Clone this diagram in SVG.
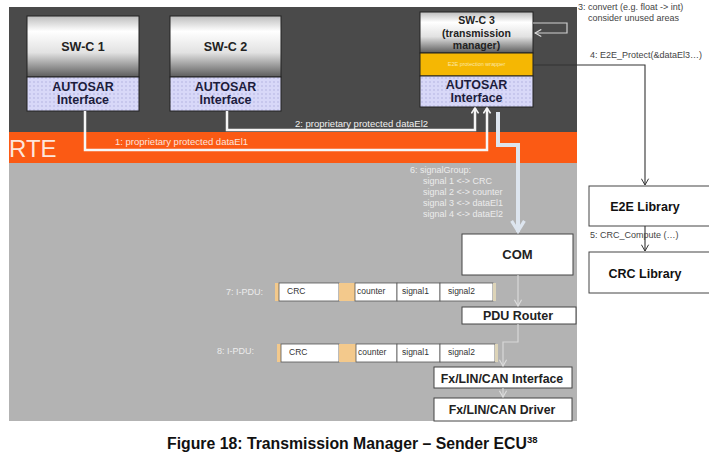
<svg xmlns="http://www.w3.org/2000/svg" width="709" height="467" viewBox="0 0 709 467">
<defs>
<linearGradient id="swc" x1="0" y1="0" x2="0" y2="1">
<stop offset="0" stop-color="#bdbdbd"/>
<stop offset="0.25" stop-color="#ffffff"/>
<stop offset="0.6" stop-color="#e2e2e2"/>
<stop offset="1" stop-color="#5c5c5c"/>
</linearGradient>
<pattern id="dots" width="8" height="8" patternUnits="userSpaceOnUse">
<rect width="8" height="8" fill="#d8d8f8"/>
<circle cx="2" cy="2" r="0.7" fill="#a9a9dc"/>
<circle cx="6" cy="2" r="0.7" fill="#a9a9dc"/>
<circle cx="2" cy="6" r="0.7" fill="#a9a9dc"/>
<circle cx="6" cy="6" r="0.7" fill="#a9a9dc"/>
</pattern>
<marker id="wa" viewBox="0 0 10 10" refX="9" refY="5" markerWidth="9" markerHeight="9" orient="auto" markerUnits="userSpaceOnUse">
<polyline points="3,1 9,5 3,9" fill="none" stroke="#f4f4f4" stroke-width="1.8"/>
</marker>
<marker id="da" viewBox="0 0 10 10" refX="9" refY="5" markerWidth="9" markerHeight="9" orient="auto" markerUnits="userSpaceOnUse">
<polyline points="2,1 9,5 2,9" fill="none" stroke="#333" stroke-width="1.1"/>
</marker>
<marker id="la" viewBox="0 0 10 10" refX="9" refY="5" markerWidth="9" markerHeight="9" orient="auto" markerUnits="userSpaceOnUse">
<polyline points="2,1 9,5 2,9" fill="none" stroke="#dcdcdc" stroke-width="1.3"/>
</marker>
<marker id="ba" viewBox="0 0 10 10" refX="9" refY="5" markerWidth="16" markerHeight="16" orient="auto" markerUnits="userSpaceOnUse">
<polyline points="2,1 8.5,5 2,9" fill="none" stroke="#dde5ef" stroke-width="2"/>
</marker>
</defs>
<style>
text{font-family:"Liberation Sans",Arial,sans-serif}
.b{font-weight:bold}
.box{fill:#fff;stroke:#444;stroke-width:1}
.swc{fill:url(#swc);stroke:#222;stroke-width:1}
.ai{fill:url(#dots);stroke:#222;stroke-width:1}
.ait{font-size:12.5px;font-weight:bold;fill:#1c1c3c;text-anchor:middle}
.lt{font-size:9px;fill:#ececec}
.dk{font-size:9px;fill:#444}
.cell{fill:#fff;stroke:#555;stroke-width:0.8}
.tan{fill:#f3c98c}
.ct{font-size:8.5px;fill:#333}
.wl{fill:none;stroke:#f6f6f6;stroke-width:2.5}
</style>
<rect width="709" height="467" fill="#fff"/>
<g id="panels">
<rect x="9" y="7" width="568" height="125" fill="#4a4a4a"/>
<rect x="9" y="132" width="568" height="31" fill="#fb5a14"/>
<rect x="9" y="163" width="568" height="258" fill="#b3b3b3"/>
<text x="9" y="157" font-size="24" fill="#fde6dc">RTE</text>
</g>
<g id="swc1">
<rect class="swc" x="27" y="16" width="112" height="61"/>
<text class="b" x="83" y="51" font-size="12.5" text-anchor="middle" fill="#222">SW-C 1</text>
<rect class="ai" x="27" y="77" width="112" height="34"/>
<text class="ait" x="83" y="91">AUTOSAR</text>
<text class="ait" x="83" y="104">Interface</text>
</g>
<g id="swc2">
<rect class="swc" x="170" y="16" width="111" height="61"/>
<text class="b" x="225.5" y="51" font-size="12.5" text-anchor="middle" fill="#222">SW-C 2</text>
<rect class="ai" x="170" y="77" width="111" height="34"/>
<text class="ait" x="225.5" y="91">AUTOSAR</text>
<text class="ait" x="225.5" y="104">Interface</text>
</g>
<g id="swc3">
<rect class="swc" x="420" y="12" width="113" height="41"/>
<text class="b" x="476.5" y="24" font-size="10.5" text-anchor="middle" fill="#222">SW-C 3</text>
<text class="b" x="476.5" y="37" font-size="10.5" text-anchor="middle" fill="#222">(transmission</text>
<text class="b" x="476.5" y="49" font-size="10.5" text-anchor="middle" fill="#222">manager)</text>
<rect x="420" y="53" width="113" height="23" fill="#f5b703" stroke="#222" stroke-width="1"/>
<text x="476.5" y="66" font-size="5.5" text-anchor="middle" fill="#fbe7a6">E2E protection wrapper</text>
<rect class="ai" x="420" y="76" width="113" height="31"/>
<text class="ait" x="476.5" y="89" font-size="13">AUTOSAR</text>
<text class="ait" x="476.5" y="102" font-size="13">Interface</text>
</g>
<g id="com">
<rect class="box" x="462" y="234" width="111" height="41"/>
<text class="b" x="517.5" y="259" font-size="13" text-anchor="middle" fill="#222">COM</text>
</g>
<g id="pdurouter">
<rect class="box" x="462" y="307" width="114" height="17"/>
<text class="b" x="518" y="320" font-size="12.5" text-anchor="middle" fill="#222">PDU Router</text>
</g>
<g id="ifc">
<rect class="box" x="434" y="367" width="138" height="21"/>
<text class="b" x="502" y="383" font-size="12.3" text-anchor="middle" fill="#222">Fx/LIN/CAN Interface</text>
</g>
<g id="drv">
<rect class="box" x="434" y="398" width="138" height="23"/>
<text class="b" x="502" y="414" font-size="12.3" text-anchor="middle" fill="#222">Fx/LIN/CAN Driver</text>
</g>
<g id="e2e">
<rect class="box" x="589" y="186" width="125" height="40"/>
<text class="b" x="645" y="211" font-size="12.5" text-anchor="middle" fill="#111">E2E Library</text>
</g>
<g id="crc">
<rect class="box" x="589" y="252" width="125" height="41"/>
<text class="b" x="645" y="278" font-size="12.5" text-anchor="middle" fill="#111">CRC Library</text>
</g>
<g id="pdu7">
<text class="lt" x="226" y="295" font-size="8.5">7: I-PDU:</text>
<rect class="tan" x="275" y="283" width="4" height="18"/>
<rect class="cell" x="279" y="283" width="60" height="18"/>
<rect class="tan" x="339" y="283" width="16" height="18"/>
<rect class="cell" x="355" y="283" width="42" height="18"/>
<rect class="cell" x="397" y="283" width="43" height="18"/>
<rect class="cell" x="440" y="283" width="53" height="18"/>
<rect x="493" y="283" width="3" height="18" fill="#ddd4b8"/>
<text class="ct" x="287" y="294">CRC</text>
<text class="ct" x="357" y="294">counter</text>
<text class="ct" x="402" y="294">signal1</text>
<text class="ct" x="448" y="294">signal2</text>
</g>
<g id="pdu8">
<text class="lt" x="217" y="354" font-size="8.5">8: I-PDU:</text>
<rect class="tan" x="277" y="344" width="4" height="18"/>
<rect class="cell" x="281" y="344" width="58" height="18"/>
<rect class="tan" x="339" y="344" width="17" height="18"/>
<rect class="cell" x="356" y="344" width="41" height="18"/>
<rect class="cell" x="397" y="344" width="43" height="18"/>
<rect class="cell" x="440" y="344" width="55" height="18"/>
<rect x="495" y="344" width="3" height="18" fill="#ddd4b8"/>
<text class="ct" x="289" y="355">CRC</text>
<text class="ct" x="358" y="355">counter</text>
<text class="ct" x="402" y="355">signal1</text>
<text class="ct" x="448" y="355">signal2</text>
</g>
<g id="connectors">
<polyline class="wl" points="85,111 85,150 487,150 487,108" marker-end="url(#wa)"/>
<polyline class="wl" points="227,111 227,130 475,130 475,108" marker-end="url(#wa)"/>
<text x="115" y="145" font-size="9.5" fill="#fde4dc">1: proprietary protected dataEl1</text>
<text x="295" y="127" font-size="9.5" fill="#f0f0f0">2: proprietary protected dataEl2</text>
<polyline points="498,112 498,145 518,145 518,232" fill="none" stroke="#dde5ef" stroke-width="4" stroke-linejoin="miter" marker-end="url(#ba)"/>
<text class="lt" x="410" y="173">6: signalGroup:</text>
<text class="lt" x="423" y="184">signal 1 &lt;-&gt; CRC</text>
<text class="lt" x="423" y="195">signal 2 &lt;-&gt; counter</text>
<text class="lt" x="423" y="206">signal 3 &lt;-&gt; dataEl1</text>
<text class="lt" x="423" y="217">signal 4 &lt;-&gt; dataEl2</text>
<polyline points="533,23 567,23 567,33 535,33" fill="none" stroke="#cfcfcf" stroke-width="1.2" marker-end="url(#la)"/>
<text class="dk" x="578" y="10">3: convert (e.g. float -&gt; int)</text>
<text class="dk" x="588" y="21">consider unused areas</text>
<polyline points="533,65 645,65 645,185" fill="none" stroke="#333" stroke-width="1.1" marker-end="url(#da)"/>
<text class="dk" x="590" y="58">4: E2E_Protect(&amp;dataEl3…)</text>
<line x1="645" y1="226" x2="645" y2="251" stroke="#333" stroke-width="1.1" marker-end="url(#da)"/>
<text class="dk" x="590" y="238" font-size="8.5">5: CRC_Compute (…)</text>
<line x1="518" y1="275" x2="518" y2="306" stroke="#d8d8d8" stroke-width="1.2" marker-end="url(#la)"/>
<polyline points="518,324 518,342 503,342 503,366" fill="none" stroke="#d8d8d8" stroke-width="1.2" marker-end="url(#la)"/>
<line x1="503" y1="388" x2="503" y2="397" stroke="#d8d8d8" stroke-width="1.2" marker-end="url(#la)"/>
</g>
<g id="caption">
<text class="b" x="167" y="449" font-size="15.8" fill="#111">Figure 18: Transmission Manager – Sender ECU<tspan font-size="9.5" dy="-6">38</tspan></text>
</g>
</svg>
